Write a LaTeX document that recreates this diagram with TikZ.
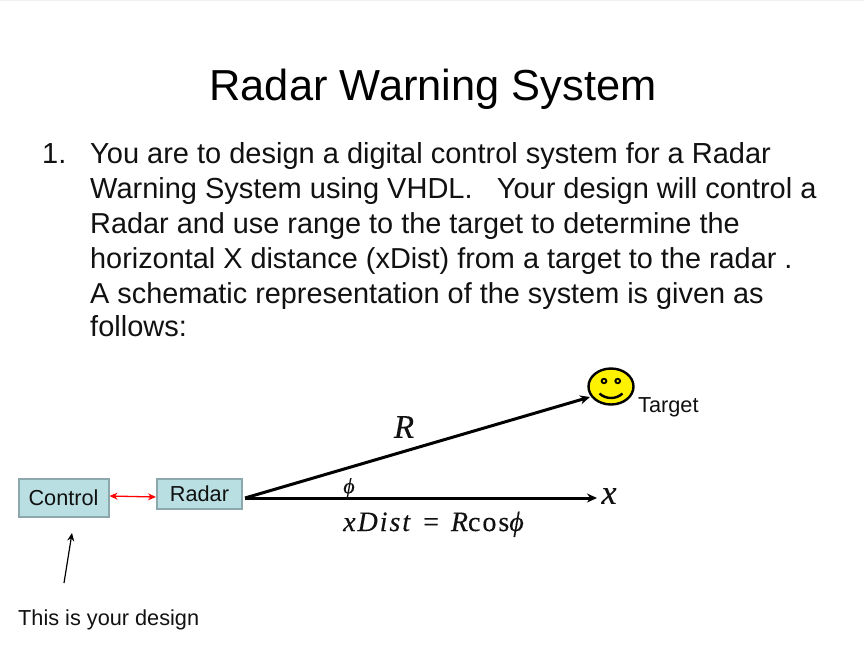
\documentclass[tikz,border=0pt]{standalone}
\usepackage{fontspec}
\setmainfont{Liberation Sans}
\newfontfamily\mathfnt[ItalicFeatures={FakeBold=0.25},UprightFeatures={FakeBold=0.25}]{Liberation Serif}
\newfontfamily\eqfnt[LetterSpace=7,ItalicFeatures={FakeBold=0.25},UprightFeatures={FakeBold=0.25}]{Liberation Serif}
\usetikzlibrary{arrows.meta,shapes.geometric}
\definecolor{boxfill}{HTML}{B9DFE3}
\definecolor{boxline}{HTML}{8CA8AC}
\definecolor{ink}{HTML}{111111}
\tikzset{
  x=1pt,y=-1pt,
  body/.style={anchor=base west,inner sep=0pt,font=\fontsize{29}{35}\selectfont,text=ink},
  tag/.style={anchor=base west,inner sep=0pt,font=\fontsize{21.7}{25}\selectfont,text=ink},
  blockbox/.style={draw=boxline,fill=boxfill,line width=2pt,inner sep=0pt,text=ink,font=\fontsize{21.7}{25}\selectfont},
  ray/.style={draw=black,line width=3pt,-{Stealth[length=10pt,width=9pt]}},
  mathlab/.style={inner sep=0pt,text=ink,font=\mathfnt\itshape},
}
\begin{document}
\begin{tikzpicture}
\useasboundingbox (0,0) rectangle (864,649);
\fill[white] (0,0) rectangle (864,649);
\fill[black!6] (0,0) rectangle (864,1);
\node[inner sep=0pt,anchor=base,text=black,font=\fontsize{43.4}{50}\selectfont] (title) at (433,100) {Radar Warning System};
\node[body] (num) at (42,163) {1.};
\node[body] (l1) at (90,163) {You are to design a digital control system for a Radar};
\node[body] (l2) at (90,198) {Warning System using VHDL.\ \ \ Your design will control a};
\node[body,font=\fontsize{28.85}{35}\selectfont] (l3) at (90,233) {Radar and use range to the target to determine the};
\node[body,font=\fontsize{28.85}{35}\selectfont] (l4) at (90,268) {horizontal X distance (xDist) from a target to the radar .};
\node[body,font=\fontsize{28.85}{35}\selectfont] (l5) at (90,303) {A schematic representation of the system is given as};
\node[body] (l6) at (90,336) {follows:};

\node[blockbox,minimum width=90pt,minimum height=38pt] (control) at (63.5,497.5) {\raisebox{-1pt}{Control}};
\node[blockbox,minimum width=85pt,minimum height=30pt] (radar) at (199.5,493.5) {Radar};
\draw[red,line width=1.3pt,{Stealth[length=8pt,width=7pt]}-{Stealth[length=8pt,width=7pt]}] (control.east|-0,496) -- (radar.west|-0,497);

\coordinate (origin) at (245,498);
\coordinate (xend) at (597,498);
\node[mathlab,font=\mathfnt\itshape\fontsize{34}{36}\selectfont] (xlab) at (609,496) {x};
\node[draw=black,fill=yellow,line width=2.4pt,ellipse,minimum width=45pt,minimum height=36pt,inner sep=0pt] (face) at (611,386.5) {};
\fill[black] (604,381) ellipse (3.4pt and 3.2pt);
\fill[yellow] (604,381) circle (1.4pt);
\fill[black] (617.7,381) ellipse (3.4pt and 3.2pt);
\fill[yellow] (617.7,381) circle (1.4pt);
\draw[black,line width=2.4pt] (599.5,393.5) .. controls (606,399.5) and (616,399.5) .. (622.5,393.5);
\coordinate (tip) at (590,397);
\draw[ray] (origin) -- (tip);
\draw[ray] (origin) -- (xend);
\node[tag] (target) at (638,412) {Target};
\node[mathlab,font=\mathfnt\itshape\fontsize{33}{36}\selectfont] (r) at (404,427) {R};
\node[mathlab,font=\mathfnt\itshape\fontsize{22}{24}\selectfont] (phi) at (349,488) {ϕ};
\node[mathlab,anchor=base west,font=\eqfnt\itshape\fontsize{28}{30}\selectfont] (eq) at (343,531) {xDist\hspace{13pt}{\upshape =}\hspace{12pt}R{\upshape cos}ϕ};

\node[tag] (design) at (18,625) {This is your design};
\coordinate (dstart) at (64,583);
\coordinate (dend) at (72,533);
\draw[black,line width=1.2pt,-{Stealth[length=8pt,width=7pt]}] (dstart) -- (dend);
\end{tikzpicture}
\end{document}
